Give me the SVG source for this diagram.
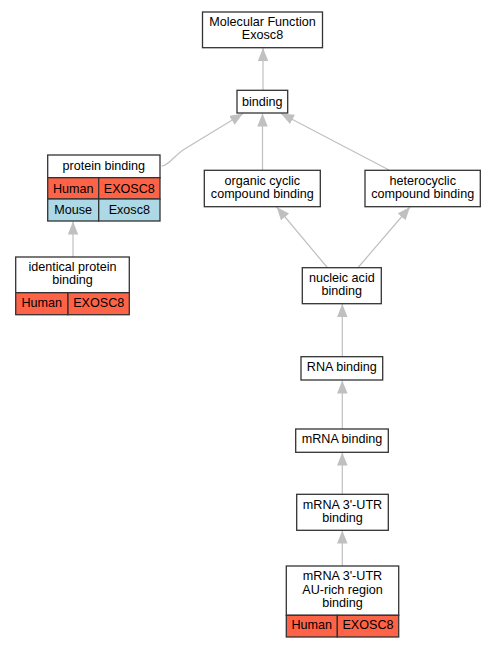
<svg xmlns="http://www.w3.org/2000/svg" width="496" height="648" viewBox="0 0 496 648">
<style>
.n{fill:#fff;stroke:#333;stroke-width:1.3}
.h{fill:#ff6347;stroke:#333;stroke-width:1.3}
.m{fill:#add8e6;stroke:#333;stroke-width:1.3}
text{font-family:"Liberation Sans",Arial,sans-serif;font-size:12.6px;fill:#000;text-anchor:middle}
.e{fill:none;stroke:#c0c0c0;stroke-width:1.2;marker-end:url(#a)}
</style>
<defs>
<marker id="a" markerUnits="userSpaceOnUse" markerWidth="14" markerHeight="11" refX="13" refY="5.25" orient="auto">
<path d="M0,0 L13,5.25 L0,10.5 z" fill="#c0c0c0"/>
</marker>
</defs>
<rect width="496" height="648" fill="#fff"/>
<g id="edges">
<path class="e" d="M263,90 L263,48"/>
<path class="e" d="M161.5,166 C168,166 172,158 183,150 L243,113.5"/>
<path class="e" d="M262.5,170 L262.5,113.5"/>
<path class="e" d="M389,170 L281,113.5"/>
<path class="e" d="M73,257 L73,221.5"/>
<path class="e" d="M327.7,268 L276.7,207"/>
<path class="e" d="M357.7,268 L410,207"/>
<path class="e" d="M342.3,357 L342.3,304"/>
<path class="e" d="M342.3,429 L342.3,380.5"/>
<path class="e" d="M342.3,494 L342.3,452.5"/>
<path class="e" d="M342.3,566 L342.3,530.5"/>
</g>
<g id="mf">
<rect class="n" x="202.5" y="12" width="120" height="35.7"/>
<text x="262.5" y="26">Molecular Function</text>
<text x="262.5" y="39.3">Exosc8</text>
</g>
<g id="binding">
<rect class="n" x="237" y="90.3" width="50.7" height="22.7"/>
<text x="262.3" y="105.6">binding</text>
</g>
<g id="protein_binding">
<rect class="n" x="47.7" y="155" width="112.3" height="22.7"/>
<rect class="h" x="47.7" y="177.7" width="51" height="21.3"/>
<rect class="h" x="98.7" y="177.7" width="61.3" height="21.3"/>
<rect class="m" x="47.7" y="199" width="51" height="22"/>
<rect class="m" x="98.7" y="199" width="61.3" height="22"/>
<text x="103.8" y="170.4">protein binding</text>
<text x="73.2" y="192.6">Human</text>
<text x="129.3" y="192.6">EXOSC8</text>
<text x="73.2" y="213.6">Mouse</text>
<text x="129.3" y="213.6">Exosc8</text>
</g>
<g id="organic">
<rect class="n" x="204.3" y="170.3" width="116" height="36.4"/>
<text x="262.3" y="184.5">organic cyclic</text>
<text x="262.3" y="197.8">compound binding</text>
</g>
<g id="hetero">
<rect class="n" x="365" y="170.3" width="115.3" height="36.4"/>
<text x="422.7" y="184.5">heterocyclic</text>
<text x="422.7" y="197.8">compound binding</text>
</g>
<g id="identical">
<rect class="n" x="15.7" y="257" width="113.6" height="35.7"/>
<rect class="h" x="15.7" y="292.7" width="52.3" height="22"/>
<rect class="h" x="68" y="292.7" width="61.3" height="22"/>
<text x="72.5" y="270.8">identical protein</text>
<text x="72.5" y="284.4">binding</text>
<text x="41.8" y="306.9">Human</text>
<text x="98.7" y="306.9">EXOSC8</text>
</g>
<g id="nucleic">
<rect class="n" x="302.3" y="267.7" width="79" height="36"/>
<text x="341.8" y="281.7">nucleic acid</text>
<text x="341.8" y="295.1">binding</text>
</g>
<g id="rna">
<rect class="n" x="301" y="356.7" width="81.7" height="23.3"/>
<text x="341.8" y="370.9">RNA binding</text>
</g>
<g id="mrna">
<rect class="n" x="295.7" y="429" width="92.6" height="23.3"/>
<text x="342" y="442.9">mRNA binding</text>
</g>
<g id="utr">
<rect class="n" x="296.7" y="494.3" width="91.6" height="36"/>
<text x="342.5" y="508.7">mRNA 3'-UTR</text>
<text x="342.5" y="522">binding</text>
</g>
<g id="aurich">
<rect class="n" x="286.3" y="566" width="112.4" height="49.3"/>
<rect class="h" x="286.3" y="615.3" width="51" height="21.7"/>
<rect class="h" x="337.3" y="615.3" width="61.4" height="21.7"/>
<text x="342.5" y="580.4">mRNA 3'-UTR</text>
<text x="342.5" y="593.7">AU-rich region</text>
<text x="342.5" y="607">binding</text>
<text x="311.8" y="628.6">Human</text>
<text x="368" y="628.6">EXOSC8</text>
</g>
</svg>
